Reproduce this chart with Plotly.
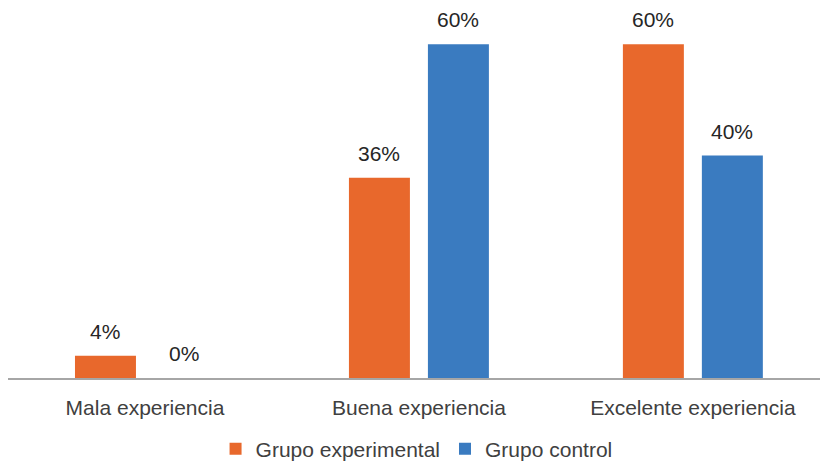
import plotly.graph_objects as go

categories = ["Mala experiencia", "Buena experiencia", "Excelente experiencia"]
experimental = [4, 36, 60]
control = [0, 60, 40]
series_names = ["Grupo experimental", "Grupo control"]
colors = ["#E8682C", "#3A7BC0"]

FONT = "Liberation Sans, Arial, sans-serif"
BAR_W = 0.2226
OFFSETS = [-0.2555, 0.0328]  # left edge of each bar relative to the category centre

fig = go.Figure()
for name, vals, col, off in zip(series_names, [experimental, control], colors, OFFSETS):
    fig.add_trace(go.Bar(
        x=categories, y=vals, name=name,
        width=BAR_W, offset=off,
        marker=dict(color=col, line=dict(width=0)),
        hoverinfo="skip",
    ))

annotations = []
for vals, off in [(experimental, OFFSETS[0]), (control, OFFSETS[1])]:
    for i, v in enumerate(vals):
        annotations.append(dict(
            x=i + off + BAR_W / 2, y=v, xref="x", yref="y",
            text=f"{v}%", showarrow=False,
            yanchor="bottom", yshift=11,
            font=dict(family=FONT, size=21, color="#262626"),
        ))

fig.update_layout(
    width=820, height=463,
    margin=dict(l=8, r=0, t=22, b=85, autoexpand=False),
    paper_bgcolor="white", plot_bgcolor="white",
    barmode="overlay",
    showlegend=True,
    legend=dict(
        orientation="h", xref="container", yref="container",
        x=0.508, xanchor="center", y=0.03, yanchor="middle",
        font=dict(family=FONT, size=21, color="#404040"),
        itemwidth=30, traceorder="normal",
    ),
    annotations=annotations,
    xaxis=dict(
        type="category", range=[-0.5, 2.464], tickangle=0,
        showline=True, linecolor="#A6A6A6", linewidth=2,
        ticks="", showgrid=False, ticklabelstandoff=10,
        tickfont=dict(family=FONT, size=21, color="#404040"),
    ),
    yaxis=dict(
        range=[0, 64], visible=False, showgrid=False, zeroline=False,
    ),
)

fig.write_html("out.html")
